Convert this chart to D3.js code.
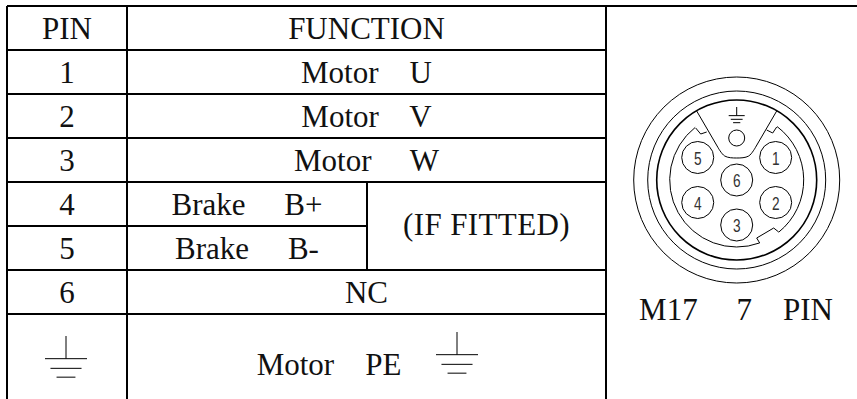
<!DOCTYPE html>
<html>
<head>
<meta charset="utf-8">
<script src="https://cdn.jsdelivr.net/npm/d3@7"></script>
<style>
  html, body { margin: 0; background: #fff; }
  svg { display: block; }
  text { font-family: "Liberation Serif", serif; font-size: 31px; fill: #111; text-anchor: middle; white-space: pre; }
</style>
</head>
<body>
<div id="chart"></div>
<script>
let height = 399,
    width = 857;

// table content
const header = ["PIN", "FUNCTION"];
const pins = ["1", "2", "3", "4", "5", "6"];
const functions = ["Motor    U", "Motor    V", "Motor     W", "Brake     B+", "Brake     B-", "NC"];
const fittedNote = "(IF FITTED)";
const earthLabel = "Motor    PE";
const connectorName = "M17     7    PIN";

// row boundaries, in row units (last row runs off the page)
const rowEdges = [0, 1, 2, 3, 4, 5, 6, 7, 9];
// column boundaries, in table units
const colEdges = [0, 120, 360, 599, 850];

// connector pins: label, clock angle in degrees, distance from the centre
const pinLabels = ["1", "2", "3", "4", "5", "6"];
const pinAngles = [60, 120, 180, 240, 300, 0];
const pinRadii = [45, 45, 45, 45, 45, 0];
const shellRadii = [103, 89];
const bodyRadius = 80;
const wallRadius = 67;

// keyway and notch outlines, connector units from the centre
const pocketLeft = [[-40, -69], [-19, -33]];
const pocketBottom = [[-19, -33], [-12, -24], [0, -22], [12, -24], [19, -33]];
const pocketRight = [[19, -33], [40, -69]];
const notchLeft = [[-41, -52], [-36, -46], [-30, -48]];
const notchRight = [[30, -50], [36, -47], [40, -53]];
const keyNotch = [[42, 52], [37, 48], [20, 58], [23, 63]];

const svg = d3.select("#chart")
  .append("svg")
  .attr("width", width)
  .attr("height", height)
  .attr("viewBox", [0, 0, width, height]);

let x = d3.scaleLinear().domain([0, 850]).range([7, 857]);
let y = d3.scaleLinear().domain([0, 8]).range([6, 358]);

const table = svg.append("g")
  .attr("stroke", "#000")
  .attr("stroke-width", 2)
  .attr("fill", "none");

function hline(x0, x1, r) {
  table.append("line").attr("x1", x(x0)).attr("x2", x(x1)).attr("y1", y(r)).attr("y2", y(r));
}
function vline(c, r0, r1) {
  table.append("line").attr("x1", x(c)).attr("x2", x(c)).attr("y1", y(r0)).attr("y2", y(r1));
}

// horizontal rules
hline(colEdges[0], colEdges[4], rowEdges[0]);
rowEdges.slice(1, 5).forEach(r => hline(colEdges[0], colEdges[3], r));
hline(colEdges[0], colEdges[2], rowEdges[5]);
hline(colEdges[0], colEdges[3], rowEdges[6]);
hline(colEdges[0], colEdges[3], rowEdges[7]);

// vertical rules
vline(colEdges[0], rowEdges[0], rowEdges[8]);
vline(colEdges[1], rowEdges[0], rowEdges[8]);
vline(colEdges[3], rowEdges[0], rowEdges[8]);
vline(colEdges[2], rowEdges[4], rowEdges[6]);

const rowMid = i => y(i + 0.5) + 11;
const pinX = x((colEdges[0] + colEdges[1]) / 2);
const funcX = x((colEdges[1] + colEdges[3]) / 2);

svg.append("text").text(header[0]).attr("x", pinX).attr("y", rowMid(0));
svg.append("text").text(header[1]).attr("x", funcX).attr("y", rowMid(0));

svg.selectAll(".pin")
  .data(pins)
  .join("text")
  .attr("class", "pin")
  .attr("x", pinX)
  .attr("y", (d, i) => rowMid(i + 1))
  .text(d => d);

svg.selectAll(".func")
  .data(functions)
  .join("text")
  .attr("class", "func")
  .attr("x", (d, i) => (i === 3 || i === 4) ? x((colEdges[1] + colEdges[2]) / 2) : funcX)
  .attr("y", (d, i) => rowMid(i + 1))
  .text(d => d);

svg.append("text").text(fittedNote)
  .style("letter-spacing", "0.4px")
  .attr("x", x((colEdges[2] + colEdges[3]) / 2))
  .attr("y", y(5) + 9);

svg.append("text").text(earthLabel)
  .attr("x", 329).attr("y", 375);

svg.append("text").text(connectorName)
  .attr("x", 736).attr("y", 320);

// earth symbol, s is the width of the top bar
function earth(cx, top, s, g) {
  const sym = g.append("g").attr("stroke", "#000").attr("stroke-width", 1).attr("fill", "none");
  const bar = s * 0.5;
  sym.append("line").attr("x1", cx).attr("x2", cx).attr("y1", top).attr("y2", top + s * 0.54);
  [[1, 0.54], [0.74, 0.77], [0.45, 0.98]].forEach(b => {
    sym.append("line")
      .attr("x1", cx - bar * b[0]).attr("x2", cx + bar * b[0])
      .attr("y1", top + s * b[1]).attr("y2", top + s * b[1]);
  });
}
earth(66, 336, 42, svg);
earth(457, 332, 42, svg);

// connector drawing
const conn = svg.append("g")
  .attr("transform", "translate(736.7,180)")
  .attr("fill", "none")
  .attr("stroke", "#000")
  .attr("stroke-width", 1);

let r = d3.scaleLinear().domain([0, 103]).range([0, 103]);
const polar = (deg, rad) => {
  const a = deg * Math.PI / 180;
  return [r(rad) * Math.sin(a), -r(rad) * Math.cos(a)];
};
const scaled = pts => pts.map(p => [r(p[0]), r(p[1])]);
const straight = d3.line();
const curved = d3.line().curve(d3.curveCatmullRom);

conn.selectAll(".shell")
  .data(shellRadii)
  .join("circle")
  .attr("class", "shell")
  .attr("r", d => r(d));

conn.append("circle").attr("r", r(bodyRadius)).attr("stroke-width", 1.6);

// top pocket and the two side notches
conn.append("path").attr("d", straight(scaled(pocketLeft)));
conn.append("path").attr("d", curved(scaled(pocketBottom)));
conn.append("path").attr("d", straight(scaled(pocketRight)));
conn.append("path").attr("d", straight(scaled(notchLeft)));
conn.append("path").attr("d", straight(scaled(notchRight)));
conn.append("path").attr("d", straight(scaled(keyNotch)));

// inner wall arcs between the notches
const angleOf = p => Math.atan2(p[1], p[0]);
const wall = (from, to) => {
  const p = d3.path();
  p.arc(0, 0, r(wallRadius), angleOf(from), angleOf(to), false);
  return p.toString();
};
conn.append("path").attr("d", wall(notchRight[2], keyNotch[0]));
conn.append("path").attr("d", wall(keyNotch[3], notchLeft[0]));

conn.selectAll(".pinHole")
  .data(pinLabels)
  .join("circle")
  .attr("class", "pinHole")
  .attr("cx", (d, i) => polar(pinAngles[i], pinRadii[i])[0])
  .attr("cy", (d, i) => polar(pinAngles[i], pinRadii[i])[1])
  .attr("r", r(16));

conn.append("circle").attr("cy", r(-42)).attr("r", r(8));
earth(0, -73, 16, conn);

conn.selectAll(".pinLabel")
  .data(pinLabels)
  .join("text")
  .attr("class", "pinLabel")
  .attr("stroke", "none")
  .style("font-family", "'Liberation Sans', sans-serif")
  .style("font-size", "19px")
  .style("fill", "#333")
  .attr("transform", (d, i) => {
    const c = polar(pinAngles[i], pinRadii[i]);
    return `translate(${c[0]},${c[1] + 7}) scale(0.72,1)`;
  })
  .text(d => d);
</script>
</body>
</html>
